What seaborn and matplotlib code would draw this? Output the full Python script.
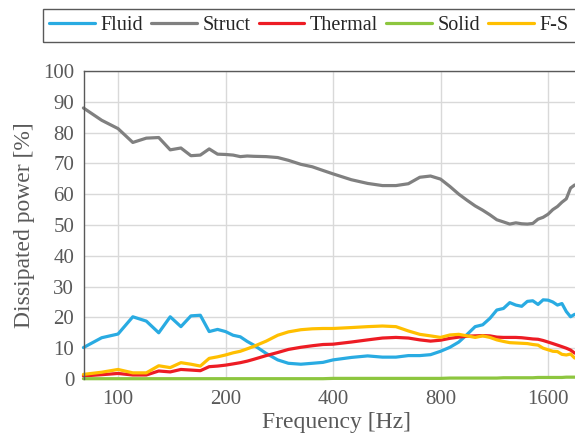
import pandas as pd
import matplotlib
matplotlib.use("Agg")
import matplotlib.pyplot as plt
from matplotlib.patches import Rectangle
from matplotlib.transforms import IdentityTransform
import seaborn as sns

# Frequency grid [Hz]
freq = [80, 90, 100, 110, 120, 130, 140, 150, 160, 170, 180, 190, 200, 210, 220, 230,
        240, 260, 280, 300, 325, 350, 375, 400, 450, 500, 550, 600, 650, 700, 750, 800,
        850, 900, 950, 1000, 1050, 1100, 1150, 1200, 1250, 1300, 1350, 1400, 1450, 1500,
        1550, 1600, 1650, 1700, 1750, 1800, 1850, 1900]

# Dissipated power share [%] per component
fluid = [10.2, 13.4, 14.6, 20.2, 18.8, 15.0, 20.2, 17.0, 20.5, 20.7, 15.4, 16.1, 15.4, 14.2,
         13.7, 12.2, 11.0, 8.3, 6.2, 5.1, 4.8, 5.1, 5.4, 6.2, 7.0, 7.5, 7.1, 7.1, 7.6, 7.6,
         7.9, 9.0, 10.3, 12.0, 14.5, 17.0, 17.6, 19.7, 22.4, 22.9, 24.8, 24.0, 23.6, 25.2,
         25.4, 24.2, 25.7, 25.6, 25.0, 24.0, 24.5, 21.9, 20.2, 21.0]
struct = [88.0, 84.0, 81.3, 76.8, 78.2, 78.4, 74.4, 75.0, 72.5, 72.7, 74.7, 73.0, 72.9, 72.7,
          72.2, 72.4, 72.3, 72.2, 71.9, 71.0, 69.7, 68.9, 67.7, 66.6, 64.7, 63.5, 62.8, 62.8,
          63.4, 65.5, 65.9, 64.9, 62.5, 60.0, 58.0, 56.2, 54.8, 53.3, 51.7, 51.0, 50.3, 50.7,
          50.4, 50.3, 50.5, 51.9, 52.5, 53.5, 55.0, 56.0, 57.4, 58.5, 62.0, 63.0]
thermal = [1.0, 1.4, 1.8, 1.3, 1.3, 2.6, 2.3, 3.1, 2.9, 2.7, 4.0, 4.2, 4.5, 4.9, 5.3, 5.8,
           6.4, 7.6, 8.6, 9.6, 10.3, 10.8, 11.2, 11.3, 12.0, 12.7, 13.3, 13.5, 13.3, 12.7,
           12.3, 12.6, 13.2, 13.6, 13.9, 14.0, 14.1, 14.0, 13.6, 13.5, 13.5, 13.5, 13.4, 13.2,
           13.0, 12.9, 12.5, 12.0, 11.5, 11.0, 10.5, 10.0, 9.4, 8.4]
solid = [0.1, 0.1, 0.1, 0.1, 0.1, 0.1, 0.1, 0.1, 0.1, 0.1, 0.1, 0.1, 0.1, 0.1, 0.1, 0.1,
         0.1, 0.1, 0.1, 0.1, 0.1, 0.1, 0.1, 0.2, 0.2, 0.2, 0.2, 0.2, 0.2, 0.2, 0.2, 0.2,
         0.3, 0.3, 0.3, 0.3, 0.3, 0.3, 0.3, 0.4, 0.4, 0.4, 0.4, 0.4, 0.4, 0.5, 0.5, 0.5,
         0.5, 0.5, 0.5, 0.6, 0.6, 0.6]
fs = [1.5, 2.2, 3.1, 2.0, 2.0, 4.3, 3.7, 5.3, 4.8, 4.2, 6.7, 7.2, 7.8, 8.5, 9.0, 9.8,
      10.6, 12.3, 14.2, 15.3, 16.0, 16.3, 16.4, 16.4, 16.7, 17.0, 17.2, 17.0, 15.6, 14.5,
      14.0, 13.5, 14.3, 14.5, 14.0, 13.5, 14.0, 13.5, 12.7, 12.2, 11.8, 11.7, 11.6, 11.5,
      11.2, 11.0, 10.0, 9.5, 9.0, 8.9, 8.0, 7.8, 8.1, 6.8]

series = ["Fluid", "Struct", "Thermal", "Solid", "F-S"]
colors = ["#29ABE2", "#808080", "#ED1C24", "#8DC63F", "#FFBF00"]
xticks = [100, 200, 400, 800, 1600]

sns.set_theme(style="whitegrid")
plt.rcParams["font.family"] = ["Liberation Serif", "DejaVu Serif"]

df = pd.DataFrame({"freq": freq, "Fluid": fluid, "Struct": struct, "Thermal": thermal,
                   "Solid": solid, "F-S": fs})
long = df.melt(id_vars="freq", var_name="series", value_name="power")

fig = plt.figure(figsize=(5.75, 4.43), dpi=100)
ax = fig.add_axes([84 / 575, 64 / 443, 506 / 575, 308 / 443])

sns.lineplot(data=long, x="freq", y="power", hue="series", hue_order=series,
             palette=colors, linewidth=2.3, ax=ax, legend=False)
for line in ax.get_lines():
    line.set_clip_on(False)

ax.set_xscale("log")
ax.set_xlim(80.3, 2097)
ax.set_ylim(0, 100)
ax.set_xticks(xticks)
ax.set_xticklabels([str(t) for t in xticks])
ax.minorticks_off()
ax.set_yticks(range(0, 101, 10))
ax.tick_params(axis="both", length=0, labelsize=15, labelcolor="#595959")
ax.tick_params(axis="y", pad=7)
ax.tick_params(axis="x", pad=8)

ax.grid(True, color="#d9d9d9", linewidth=1.0)
for side in ["left", "top"]:
    ax.spines[side].set_visible(True)
    ax.spines[side].set_color("#595959")
    ax.spines[side].set_linewidth(1.0)
ax.spines["right"].set_visible(False)
ax.spines["bottom"].set_visible(False)

ax.set_xlabel("Frequency [Hz]", fontsize=17, color="#595959", labelpad=2)
ax.set_ylabel("Dissipated power [%]", fontsize=17, color="#595959", labelpad=6)

handles = [plt.Line2D([], [], color=c, linewidth=2.3) for c in colors]
leg = fig.legend(handles, series, loc="upper left", bbox_to_anchor=(42.7 / 575, 1 - 9.3 / 443),
                 ncol=5, fontsize=14.5, frameon=True, fancybox=False,
                 borderaxespad=0, borderpad=0.33, handlelength=2.25, handletextpad=0.3,
                 columnspacing=0.4)
for t in leg.get_texts():
    t.set_color("#262626")

# the legend box runs past the right edge in the original
fig.canvas.draw()
bb = leg.get_window_extent()
leg.set_frame_on(False)
fig.add_artist(Rectangle((bb.x0, bb.y0), 700 - bb.x0, bb.height, transform=IdentityTransform(),
                         fill=False, edgecolor="#595959", linewidth=1.0, clip_on=False))

fig.savefig("out.png", dpi=100)
